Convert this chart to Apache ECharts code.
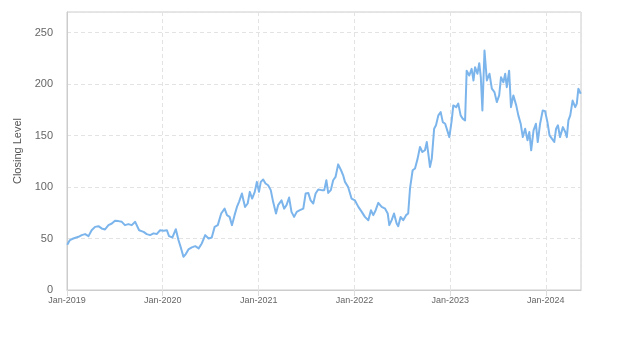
<!DOCTYPE html>
<html>
<head>
<meta charset="utf-8">
<script src="https://cdn.jsdelivr.net/npm/echarts@6/dist/echarts.min.js"></script>
<style>
  html, body { margin: 0; padding: 0; background: #fff; }
  #chart { width: 623px; height: 350px; }
</style>
</head>
<body>
<div id="chart"></div>
<script>
// Closing level of the index, sampled dates and values
const dates = [
  '2019-01-02','2019-01-12','2019-01-25','2019-02-01','2019-02-14','2019-02-26','2019-03-11',
  '2019-03-24','2019-04-05','2019-04-18','2019-05-01','2019-05-13','2019-05-26','2019-06-08',
  '2019-06-21','2019-07-03','2019-07-16','2019-07-29','2019-08-10','2019-08-23','2019-09-05',
  '2019-09-18','2019-09-24','2019-10-03','2019-10-20','2019-11-01','2019-11-14','2019-11-27',
  '2019-12-09','2019-12-22',
  '2020-01-04','2020-01-17','2020-01-25','2020-02-07','2020-02-20','2020-03-01','2020-03-11',
  '2020-03-20','2020-03-29','2020-04-08','2020-04-21','2020-05-04','2020-05-17','2020-05-29',
  '2020-06-11','2020-06-24','2020-07-06','2020-07-17','2020-07-29','2020-08-11','2020-08-24',
  '2020-09-02','2020-09-12','2020-09-21','2020-10-01','2020-10-10','2020-10-18','2020-10-29',
  '2020-11-04','2020-11-10','2020-11-20','2020-11-28','2020-12-07','2020-12-17','2020-12-25',
  '2021-01-02','2021-01-09','2021-01-18','2021-01-27','2021-02-06','2021-02-16','2021-02-25',
  '2021-03-08','2021-03-16','2021-03-29','2021-04-08','2021-04-17','2021-04-27','2021-05-06',
  '2021-05-16','2021-05-26','2021-06-07','2021-06-20','2021-06-29','2021-07-09','2021-07-18',
  '2021-07-28','2021-08-06','2021-08-16','2021-08-29','2021-09-08','2021-09-16','2021-09-23',
  '2021-10-03','2021-10-12','2021-10-21','2021-10-31','2021-11-11','2021-11-19','2021-11-26',
  '2021-12-08','2021-12-21',
  '2022-01-03','2022-01-16','2022-01-29','2022-02-10','2022-02-23','2022-03-05','2022-03-14',
  '2022-03-23','2022-04-02','2022-04-15','2022-04-28','2022-05-08','2022-05-14','2022-05-23',
  '2022-06-01','2022-06-11','2022-06-17','2022-06-26','2022-07-06','2022-07-17','2022-07-25',
  '2022-08-01','2022-08-11','2022-08-20','2022-08-30','2022-09-08','2022-09-17','2022-09-27',
  '2022-10-04','2022-10-11','2022-10-16','2022-10-23','2022-11-01','2022-11-08','2022-11-17',
  '2022-11-26','2022-12-04','2022-12-13','2022-12-21','2022-12-29',
  '2023-01-07','2023-01-13','2023-01-24','2023-02-01','2023-02-10','2023-02-18','2023-02-27',
  '2023-03-05','2023-03-15','2023-03-24','2023-03-31','2023-04-06','2023-04-15','2023-04-22',
  '2023-04-28','2023-05-04','2023-05-12','2023-05-21','2023-05-31','2023-06-09','2023-06-19',
  '2023-06-28','2023-07-07','2023-07-14','2023-07-23','2023-07-30','2023-08-05','2023-08-14',
  '2023-08-21','2023-08-30','2023-09-10','2023-09-18','2023-09-27','2023-10-05','2023-10-14',
  '2023-10-23','2023-10-30','2023-11-06','2023-11-15','2023-11-24','2023-12-01','2023-12-10',
  '2023-12-20','2023-12-29',
  '2024-01-07','2024-01-15','2024-01-24','2024-02-02','2024-02-09','2024-02-16','2024-02-24',
  '2024-03-06','2024-03-15','2024-03-21','2024-03-27','2024-04-03','2024-04-12','2024-04-22',
  '2024-04-28','2024-05-04','2024-05-13'
];
const closing = [
  44, 48.5, 50, 48.5, 51.7, 53.3, 54.3,
  52.3, 58, 61.3, 62, 59.8, 58.8, 63,
  64.6, 67.2, 66.9, 66.2, 63, 64, 63,
  66.2, 67.8, 58, 56.5, 54.3, 53.3, 55,
  54.3, 58,
  57.5, 58, 52.3, 51, 59, 48.5, 40.4,
  32.3, 34.9, 39.4, 41.4, 42.6, 40.4, 45.2,
  53.3, 50, 51, 61.3, 63, 74.3, 79,
  72.7, 71, 63, 72.7, 80.7, 85.6, 93.7,
  87, 80.7, 84, 95.3, 88.8, 95.3, 105,
  95.3, 105, 107.3, 103.4, 101.7, 97, 85.6,
  74.3, 82.4, 87, 79, 82.4, 89.8, 75.9,
  71, 75.9, 77.5, 79, 93.7, 94.3, 87,
  84, 93.7, 97.6, 97, 97, 106.6, 94.3,
  97, 106.6, 109.8, 122, 116.3, 111.4, 105,
  100, 88.8,
  87, 80.7, 75.9, 71, 67.8, 77.5, 72.7,
  77.5, 84.6, 80.7, 79, 74.3, 63, 67.8,
  74.3, 64.6, 62, 71, 67.8, 72.7, 74.3,
  98.6, 116.3, 118, 127.6, 138.9, 134, 135.7,
  143.7, 130, 119.5, 127.6, 156.7, 160, 169.6,
  172.8, 163, 161.5, 155, 148.5,
  164.7, 179.3, 177.6, 181, 169.6, 166.4, 164.7,
  213, 208.3, 214.8, 203.5, 216.4, 210, 220.3,
  206.7, 174.4, 232.6, 203.5, 210, 195.5, 192.2,
  182.5, 189, 206.7, 201.8, 210, 197, 213,
  177.6, 189, 179.3, 169.6, 161.5, 148.5, 156.7,
  145.4, 153.4, 135.7, 155, 161.5, 143.7, 161.5,
  174.4, 173.7,
  163, 150.2, 147, 143.7, 156.7, 160, 148.5,
  158.2, 153.4, 148.5, 164.7, 169.6, 184, 177.6,
  181, 195.5, 190.6
];
const yTicks = [0, 50, 100, 150, 200, 250];
const monthNames = ['Jan','Feb','Mar','Apr','May','Jun','Jul','Aug','Sep','Oct','Nov','Dec'];

const seriesData = dates.map((d, i) => [d, closing[i]]);
const font = '"Liberation Sans", Arial, sans-serif';

const chart = echarts.init(document.getElementById('chart'), null, { renderer: 'canvas' });
chart.setOption({
  animation: false,
  backgroundColor: '#fff',
  textStyle: { fontFamily: font },
  grid: {
    left: 67, right: 42, top: 12, bottom: 60,
    show: true, borderColor: '#ccc', borderWidth: 1, backgroundColor: 'transparent'
  },
  xAxis: {
    type: 'time',
    min: '2019-01-01',
    max: '2024-05-14',
    minInterval: 365 * 24 * 3600 * 1000,
    maxInterval: 366 * 24 * 3600 * 1000,
    axisLine: { show: true, lineStyle: { color: '#ccc' } },
    axisTick: { show: true, length: 6, lineStyle: { color: '#ddd' } },
    splitLine: { show: true, lineStyle: { color: '#e3e3e3', type: [4, 3] } },
    axisLabel: {
      color: '#666', fontSize: 9, margin: 6, fontFamily: font,
      showMaxLabel: false,
      formatter: v => { const d = new Date(v); return monthNames[d.getMonth()] + '-' + d.getFullYear(); }
    }
  },
  yAxis: {
    type: 'value',
    min: yTicks[0],
    max: 270,
    interval: 50,
    name: 'Closing Level',
    nameLocation: 'middle',
    nameRotate: 90,
    nameGap: 40,
    nameTextStyle: { color: '#555', fontSize: 11, fontFamily: font },
    axisLine: { show: true, lineStyle: { color: '#ccc' } },
    axisTick: { show: false },
    splitLine: { show: true, lineStyle: { color: '#e3e3e3', type: [4, 3] } },
    axisLabel: {
      color: '#666', fontSize: 11, margin: 14, fontFamily: font,
      showMaxLabel: false
    }
  },
  series: [{
    type: 'line',
    data: seriesData,
    showSymbol: false,
    symbol: 'none',
    lineStyle: { color: '#7cb5ec', width: 2, join: 'round' },
    itemStyle: { color: '#7cb5ec' }
  }]
});
</script>
</body>
</html>
